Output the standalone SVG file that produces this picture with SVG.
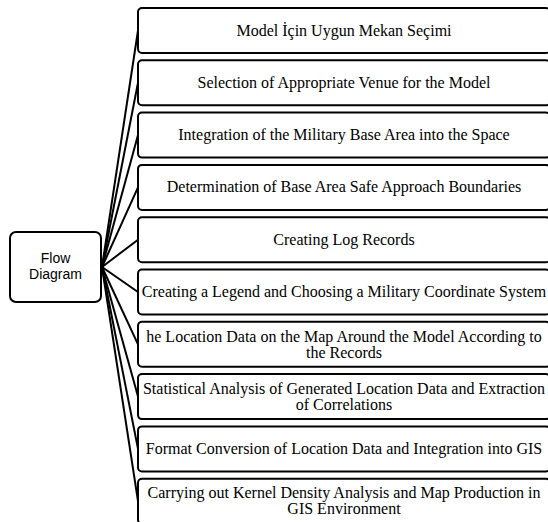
<svg xmlns="http://www.w3.org/2000/svg" width="548" height="522" viewBox="0 0 548 522">
<style>
.box{fill:#fff;stroke:#000;stroke-width:2}
.t{font-family:"Liberation Serif","Times New Roman",serif;font-size:16px;fill:#000;text-anchor:middle}
.r{font-family:"Liberation Sans",Arial,sans-serif;font-size:14px;fill:#000;text-anchor:middle}
.c{fill:none;stroke:#000;stroke-width:2}
</style>
<rect width="548" height="522" fill="#fff"/>
<g id="connectors">
<line class="c" x1="102" y1="267" x2="138" y2="30.5"/>
<line class="c" x1="102" y1="267" x2="138" y2="82.8"/>
<line class="c" x1="102" y1="267" x2="138" y2="135.1"/>
<line class="c" x1="102" y1="267" x2="138" y2="187.4"/>
<line class="c" x1="102" y1="267" x2="138" y2="239.7"/>
<line class="c" x1="102" y1="267" x2="138" y2="292"/>
<line class="c" x1="102" y1="267" x2="138" y2="344.3"/>
<line class="c" x1="102" y1="267" x2="138" y2="396.6"/>
<line class="c" x1="102" y1="267" x2="138" y2="448.9"/>
<line class="c" x1="102" y1="267" x2="138" y2="501.2"/>
</g>
<g id="root">
<rect class="box" x="10" y="232" width="91" height="70" rx="6"/>
<text class="r" x="55.5" y="263">Flow</text>
<text class="r" x="55.5" y="279">Diagram</text>
</g>
<g id="n1"><rect class="box" x="138" y="8" width="412" height="45" rx="4"/><text class="t" x="344" y="35.5">Model İçin Uygun Mekan Seçimi</text></g>
<g id="n2"><rect class="box" x="138" y="60.3" width="412" height="45" rx="4"/><text class="t" x="344" y="87.8">Selection of Appropriate Venue for the Model</text></g>
<g id="n3"><rect class="box" x="138" y="112.6" width="412" height="45" rx="4"/><text class="t" x="344" y="140.1">Integration of the Military  Base Area into the Space</text></g>
<g id="n4"><rect class="box" x="138" y="164.9" width="412" height="45" rx="4"/><text class="t" x="344" y="192.4">Determination of Base Area Safe Approach Boundaries</text></g>
<g id="n5"><rect class="box" x="138" y="217.2" width="412" height="45" rx="4"/><text class="t" x="344" y="244.7">Creating Log Records</text></g>
<g id="n6"><rect class="box" x="138" y="269.5" width="412" height="45" rx="4"/><text class="t" x="344" y="297">Creating a Legend and Choosing a Military  Coordinate System</text></g>
<g id="n7"><rect class="box" x="138" y="321.8" width="412" height="45" rx="4"/><text class="t" x="344" y="341.5">he Location Data on the Map Around the Model According to</text><text class="t" x="344" y="357.5">the Records</text></g>
<g id="n8"><rect class="box" x="138" y="374.1" width="412" height="45" rx="4"/><text class="t" x="344" y="393.8">Statistical  Analysis of Generated Location Data and Extraction</text><text class="t" x="344" y="409.8">of Correlations</text></g>
<g id="n9"><rect class="box" x="138" y="426.4" width="412" height="45" rx="4"/><text class="t" x="344" y="453.9">Format Conversion of Location Data and Integration into GIS</text></g>
<g id="n10"><rect class="box" x="138" y="478.7" width="412" height="45" rx="4"/><text class="t" x="344" y="498.4">Carrying out Kernel Density Analysis and Map Production in</text><text class="t" x="344" y="514.4">GIS Environment</text></g>
</svg>
